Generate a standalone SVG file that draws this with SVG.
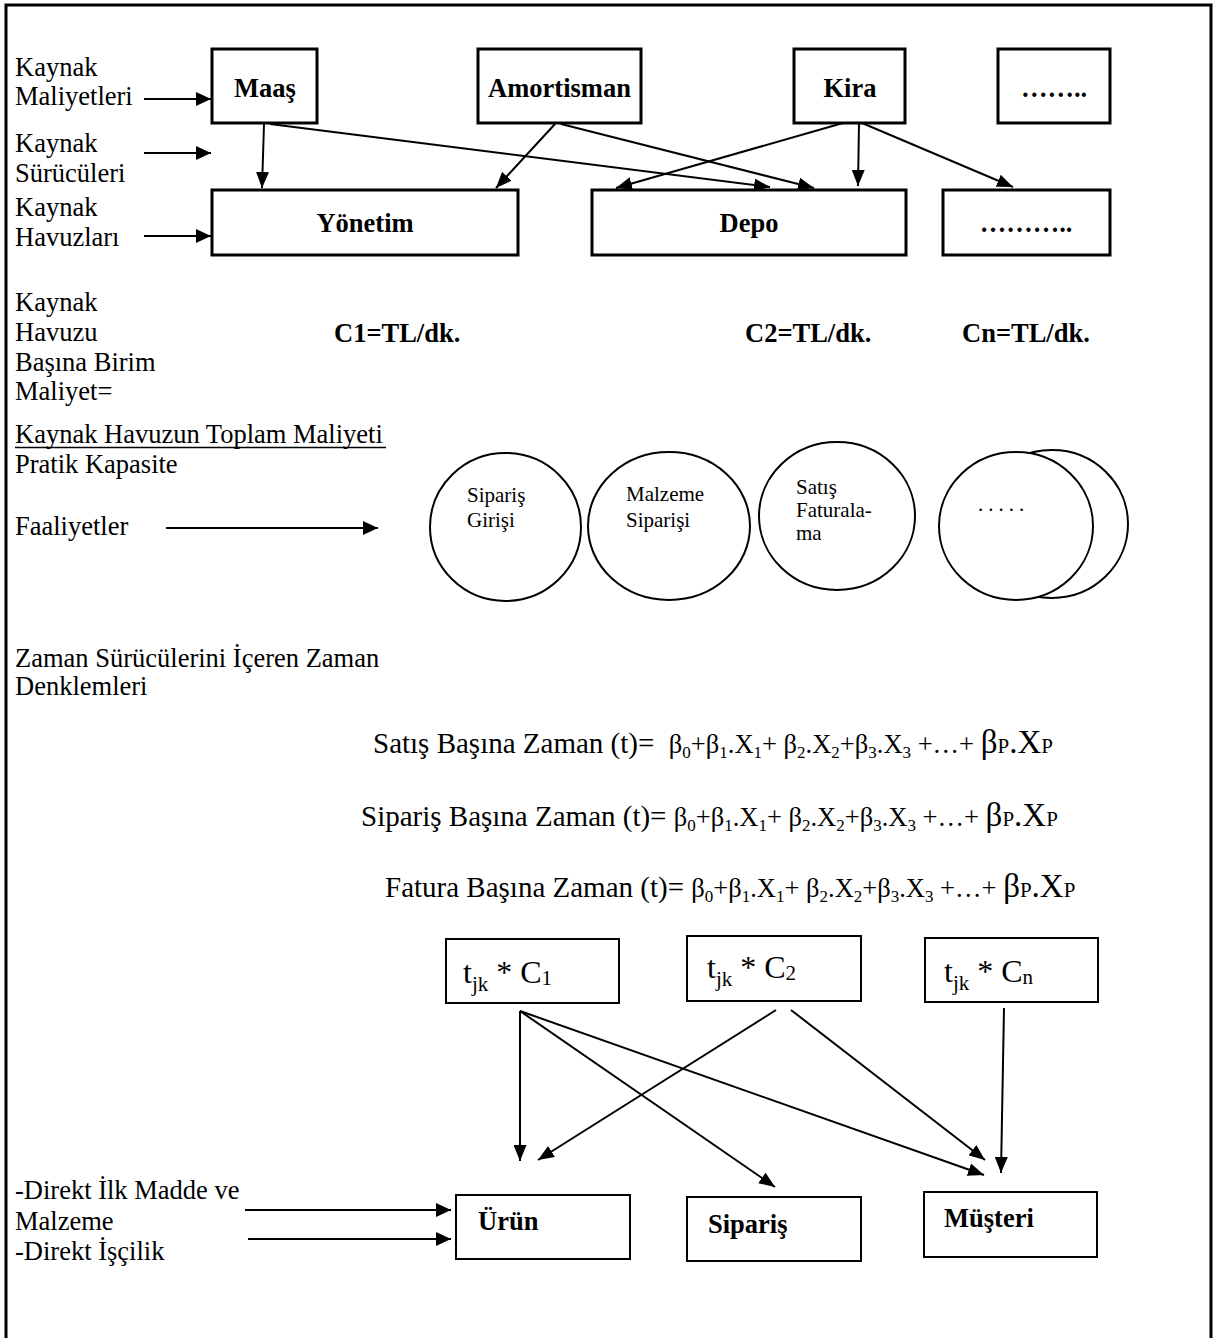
<svg xmlns="http://www.w3.org/2000/svg" width="1216" height="1338" viewBox="0 0 1216 1338">
<style>
text { font-family: "Liberation Serif", "Times New Roman", serif; fill: #000; }
.t { font-size: 26.5px; }
.b { font-size: 26.5px; font-weight: bold; }
.ct { font-size: 21px; }
.eq { font-size: 26.5px; }
.eqh { font-size: 29px; }
.sub { font-size: 17px; }
.big { font-size: 33px; }
.bsub { font-size: 21px; }
.tj { font-size: 32px; }
.tjs { font-size: 21px; }
.box { fill: #fff; stroke: #000; stroke-width: 3; }
.box2 { fill: #fff; stroke: #000; stroke-width: 2; }
.circ { fill: #fff; stroke: #000; stroke-width: 2; }
.conn line { stroke: #000; stroke-width: 2; marker-end: url(#ah); }
.conn line.h { marker-end: url(#ah2); }
</style>
<defs>
<marker id="ah" markerUnits="userSpaceOnUse" markerWidth="16" markerHeight="13" refX="16" refY="6.5" orient="auto">
<path d="M0,0 L16,6.5 L0,13 z" fill="#000"/>
</marker>
<marker id="ah2" markerUnits="userSpaceOnUse" markerWidth="15" markerHeight="14" refX="15" refY="7" orient="auto">
<path d="M0,0 L15,7 L0,14 z" fill="#000"/>
</marker>
</defs>
<rect width="1216" height="1338" fill="#fff"/>
<path d="M6,1338 V5 H1211 V1338" fill="none" stroke="#000" stroke-width="3"/>

<g id="left-labels">
<text class="t" x="15" y="76">Kaynak</text>
<text class="t" x="15" y="105">Maliyetleri</text>
<text class="t" x="15" y="152">Kaynak</text>
<text class="t" x="15" y="182">Sürücüleri</text>
<text class="t" x="15" y="216">Kaynak</text>
<text class="t" x="15" y="246">Havuzları</text>
<text class="t" x="15" y="311">Kaynak</text>
<text class="t" x="15" y="341">Havuzu</text>
<text class="t" x="15" y="371">Başına Birim</text>
<text class="t" x="15" y="400">Maliyet=</text>
<text class="t" x="15" y="443">Kaynak Havuzun Toplam Maliyeti</text>
<line x1="15" y1="447.5" x2="386" y2="447.5" stroke="#000" stroke-width="1.5"/>
<text class="t" x="15" y="473">Pratik Kapasite</text>
<text class="t" x="15" y="535">Faaliyetler</text>
<text class="t" x="15" y="667">Zaman Sürücülerini İçeren Zaman</text>
<text class="t" x="15" y="695">Denklemleri</text>
<text class="t" x="15" y="1199">-Direkt İlk Madde ve</text>
<text class="t" x="15" y="1230">Malzeme</text>
<text class="t" x="15" y="1260">-Direkt İşçilik</text>
</g>

<g id="node-maas"><rect class="box" x="212" y="49" width="105" height="74"/><text class="b" x="265" y="97" text-anchor="middle">Maaş</text></g>
<g id="node-amortisman"><rect class="box" x="478" y="49" width="163" height="74"/><text class="b" x="559.5" y="97" text-anchor="middle">Amortisman</text></g>
<g id="node-kira"><rect class="box" x="794" y="49" width="111" height="74"/><text class="b" x="850" y="97" text-anchor="middle">Kira</text></g>
<g id="node-dots1"><rect class="box" x="998" y="49" width="112" height="74"/><text class="b" x="1054" y="97" text-anchor="middle">……..</text></g>

<g id="node-yonetim"><rect class="box" x="212" y="190" width="306" height="65"/><text class="b" x="365" y="232" text-anchor="middle">Yönetim</text></g>
<g id="node-depo"><rect class="box" x="592" y="190" width="314" height="65"/><text class="b" x="749" y="232" text-anchor="middle">Depo</text></g>
<g id="node-dots2"><rect class="box" x="943" y="190" width="167" height="65"/><text class="b" x="1026" y="232" text-anchor="middle">………..</text></g>

<g id="rates">
<text class="b" x="334" y="342">C1=TL/dk.</text>
<text class="b" x="745" y="342">C2=TL/dk.</text>
<text class="b" x="962" y="342">Cn=TL/dk.</text>
</g>

<g id="node-siparis-girisi"><ellipse class="circ" cx="505.5" cy="527" rx="75.5" ry="74"/><text class="ct" x="467" y="502">Sipariş</text><text class="ct" x="467" y="527">Girişi</text></g>
<g id="node-malzeme-siparisi"><ellipse class="circ" cx="669" cy="526" rx="81" ry="74"/><text class="ct" x="626" y="501">Malzeme</text><text class="ct" x="626" y="527">Siparişi</text></g>
<g id="node-satis-faturalama"><ellipse class="circ" cx="837" cy="516" rx="78" ry="74"/><text class="ct" x="796" y="494">Satış</text><text class="ct" x="796" y="517">Faturala-</text><text class="ct" x="796" y="540">ma</text></g>
<g id="node-dots3"><ellipse class="circ" cx="1052" cy="524" rx="76" ry="74"/><ellipse class="circ" cx="1016" cy="526" rx="77" ry="74"/><text class="ct" x="978" y="511" letter-spacing="5">.....</text></g>

<g id="equations">
<text class="eq" x="373" y="753" xml:space="preserve"><tspan class="eqh">Satış Başına Zaman (t)=  </tspan>β<tspan class="sub" dy="5">0</tspan><tspan dy="-5">+β</tspan><tspan class="sub" dy="5">1</tspan><tspan dy="-5">.X</tspan><tspan class="sub" dy="5">1</tspan><tspan dy="-5">+ β</tspan><tspan class="sub" dy="5">2</tspan><tspan dy="-5">.X</tspan><tspan class="sub" dy="5">2</tspan><tspan dy="-5">+β</tspan><tspan class="sub" dy="5">3</tspan><tspan dy="-5">.X</tspan><tspan class="sub" dy="5">3</tspan><tspan dy="-5"> +…+ </tspan><tspan class="big">β</tspan><tspan class="bsub">P</tspan><tspan class="big">.X</tspan><tspan class="bsub">P</tspan></text>
<text class="eq" x="361" y="826" xml:space="preserve"><tspan class="eqh">Sipariş Başına Zaman (t)= </tspan>β<tspan class="sub" dy="5">0</tspan><tspan dy="-5">+β</tspan><tspan class="sub" dy="5">1</tspan><tspan dy="-5">.X</tspan><tspan class="sub" dy="5">1</tspan><tspan dy="-5">+ β</tspan><tspan class="sub" dy="5">2</tspan><tspan dy="-5">.X</tspan><tspan class="sub" dy="5">2</tspan><tspan dy="-5">+β</tspan><tspan class="sub" dy="5">3</tspan><tspan dy="-5">.X</tspan><tspan class="sub" dy="5">3</tspan><tspan dy="-5"> +…+ </tspan><tspan class="big">β</tspan><tspan class="bsub">P</tspan><tspan class="big">.X</tspan><tspan class="bsub">P</tspan></text>
<text class="eq" x="385" y="897" xml:space="preserve"><tspan class="eqh">Fatura Başına Zaman (t)= </tspan>β<tspan class="sub" dy="5">0</tspan><tspan dy="-5">+β</tspan><tspan class="sub" dy="5">1</tspan><tspan dy="-5">.X</tspan><tspan class="sub" dy="5">1</tspan><tspan dy="-5">+ β</tspan><tspan class="sub" dy="5">2</tspan><tspan dy="-5">.X</tspan><tspan class="sub" dy="5">2</tspan><tspan dy="-5">+β</tspan><tspan class="sub" dy="5">3</tspan><tspan dy="-5">.X</tspan><tspan class="sub" dy="5">3</tspan><tspan dy="-5"> +…+ </tspan><tspan class="big">β</tspan><tspan class="bsub">P</tspan><tspan class="big">.X</tspan><tspan class="bsub">P</tspan></text>
</g>

<g id="node-tc1"><rect class="box2" x="446" y="939" width="173" height="64"/><text class="tj" x="463" y="983">t<tspan class="tjs" dy="8">jk</tspan><tspan dy="-8"> * C</tspan><tspan class="tjs" dy="2">1</tspan></text></g>
<g id="node-tc2"><rect class="box2" x="687" y="936" width="174" height="65"/><text class="tj" x="707" y="978">t<tspan class="tjs" dy="8">jk</tspan><tspan dy="-8"> * C</tspan><tspan class="tjs" dy="2">2</tspan></text></g>
<g id="node-tcn"><rect class="box2" x="925" y="938" width="173" height="64"/><text class="tj" x="944" y="982">t<tspan class="tjs" dy="8">jk</tspan><tspan dy="-8"> * C</tspan><tspan class="tjs" dy="2">n</tspan></text></g>

<g id="node-urun"><rect class="box2" x="456" y="1195" width="174" height="64"/><text class="b" x="478" y="1230">Ürün</text></g>
<g id="node-siparis"><rect class="box2" x="687" y="1197" width="174" height="64"/><text class="b" x="708" y="1233">Sipariş</text></g>
<g id="node-musteri"><rect class="box2" x="924" y="1192" width="173" height="65"/><text class="b" x="944" y="1227">Müşteri</text></g>

<g id="connectors" class="conn">
<line x1="264" y1="124" x2="262" y2="188"/>
<line x1="270" y1="124" x2="770" y2="187"/>
<line x1="555" y1="124" x2="496" y2="188"/>
<line x1="561" y1="124" x2="814" y2="188"/>
<line x1="843" y1="123" x2="616" y2="188"/>
<line x1="859" y1="123" x2="858" y2="186"/>
<line x1="862" y1="123" x2="1013" y2="187"/>
<line class="h" x1="144" y1="99" x2="211" y2="99"/>
<line class="h" x1="144" y1="153" x2="211" y2="153"/>
<line class="h" x1="144" y1="236" x2="211" y2="236"/>
<line class="h" x1="166" y1="528" x2="378" y2="528"/>
<line class="h" x1="245" y1="1210" x2="451" y2="1210"/>
<line class="h" x1="248" y1="1239" x2="451" y2="1239"/>
<line x1="520" y1="1011" x2="520" y2="1161"/>
<line x1="520" y1="1011" x2="775" y2="1187"/>
<line x1="520" y1="1011" x2="984" y2="1175"/>
<line x1="776" y1="1010" x2="538" y2="1160"/>
<line x1="791" y1="1010" x2="985" y2="1160"/>
<line x1="1004" y1="1008" x2="1001" y2="1173"/>
</g>
</svg>
